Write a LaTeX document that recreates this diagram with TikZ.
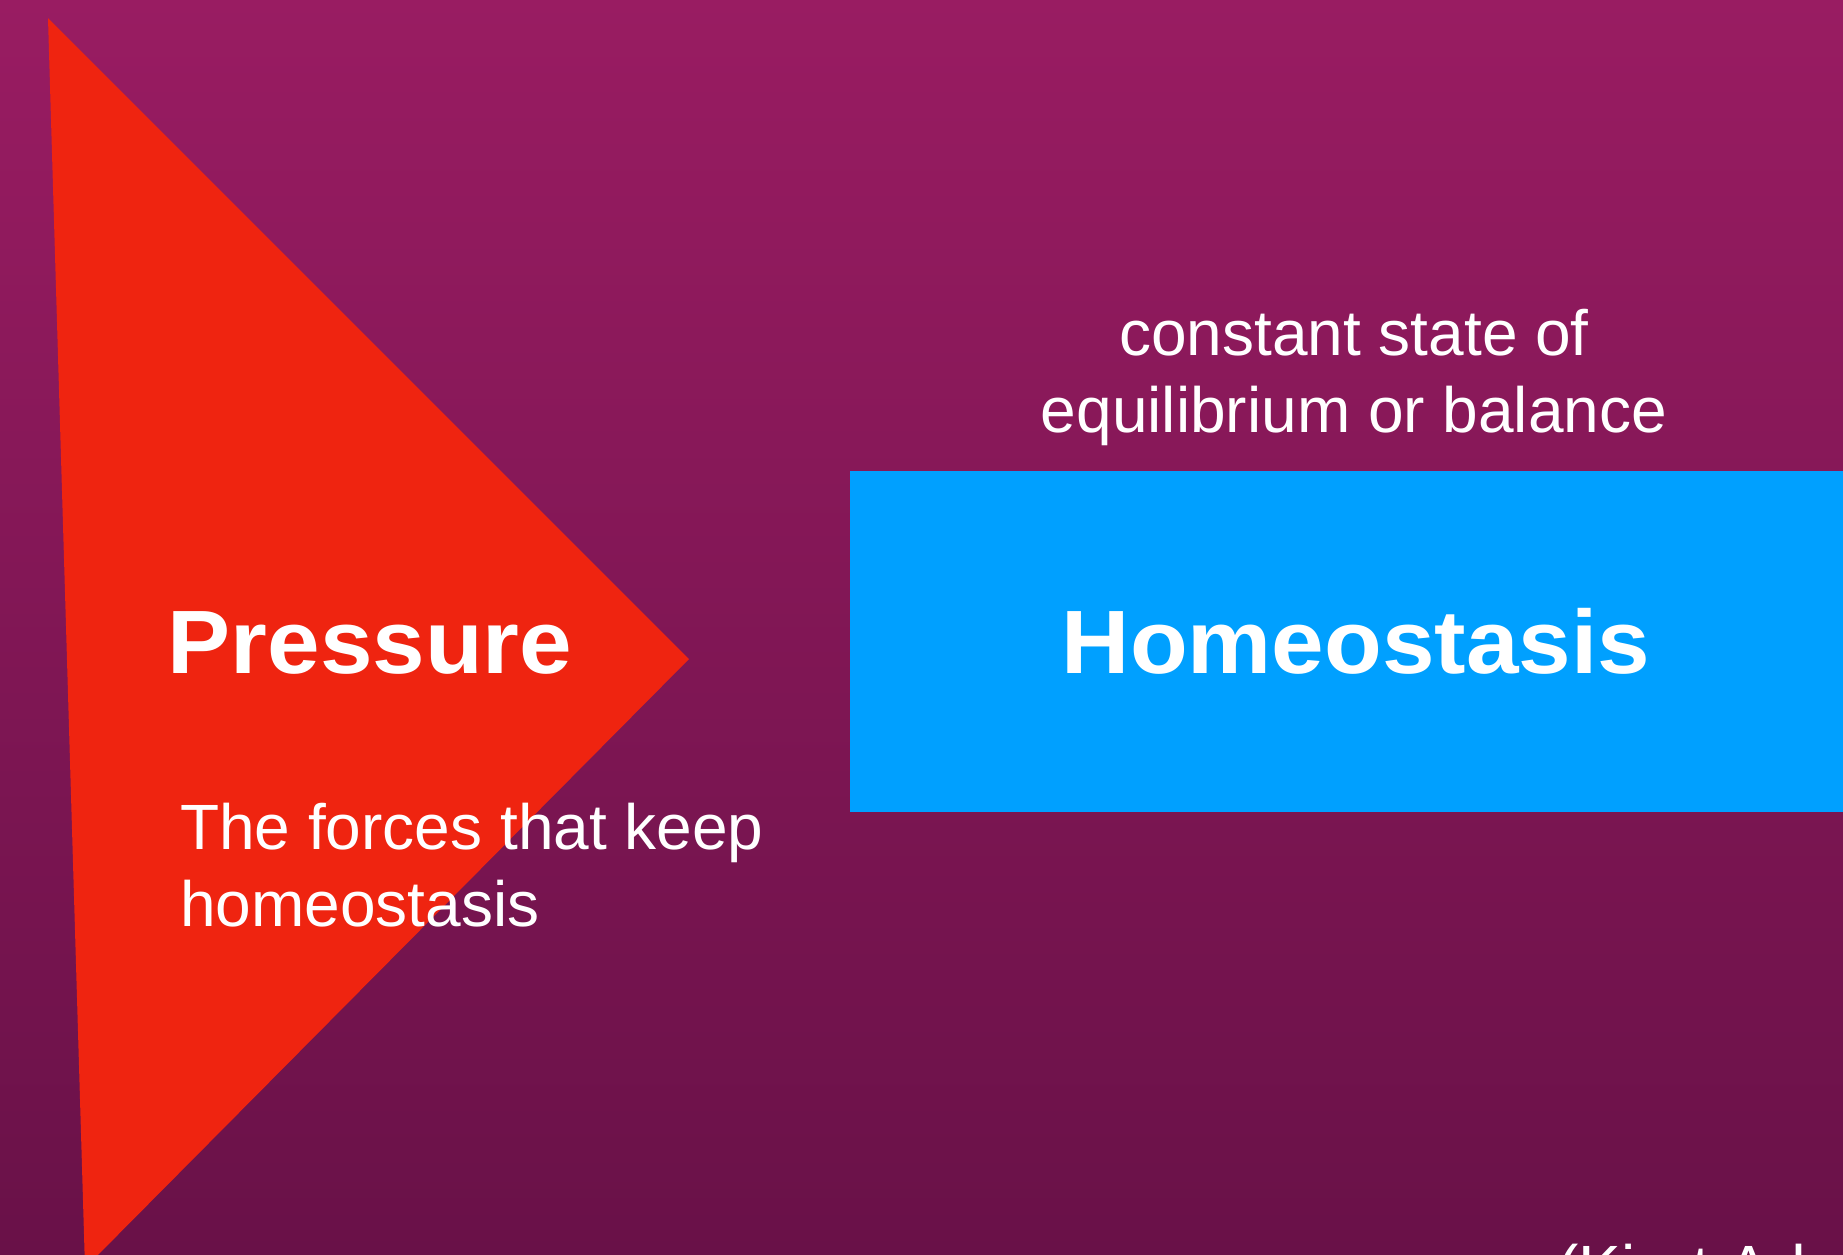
\documentclass[tikz,border=0pt]{standalone}
\usepackage{fontspec}
\setmainfont{Liberation Sans}
\newfontfamily\headfont{Liberation Sans}[FakeStretch=1.05]
\definecolor{bgtop}{HTML}{991C62}
\definecolor{bgbot}{HTML}{691148}
\definecolor{tri}{HTML}{EF2410}
\definecolor{boxblue}{HTML}{00A0FF}
\begin{document}
\begin{tikzpicture}[x=1pt,y=-1pt,
  headtxt/.style={inner sep=0pt,text=white,font=\headfont\bfseries\fontsize{90}{100}\selectfont,anchor=base},
  bodytxt/.style={inner sep=0pt,text=white,font=\fontsize{64}{77}\selectfont,anchor=base}]
\useasboundingbox (0,0) rectangle (1843,1254);
\clip (0,0) rectangle (1843,1254);
\shade[top color=bgtop,bottom color=bgbot] (0,0) rectangle (1843,1254);
% red triangle
\fill[tri] (48,18) -- (689,659) -- (85,1268) -- cycle;
% blue box
\fill[boxblue] (850,471) rectangle (1850,812);
% texts
\node[headtxt] (pressure) at (370,673) {Pressure};
\node[headtxt] (homeo) at (1356,673) {Homeostasis};
\node[bodytxt] (c1) at (1354,355) {constant state of};
\node[bodytxt] (c2) at (1354,432) {equilibrium or balance};
\node[bodytxt,anchor=base west] (f1) at (180,849) {The forces that keep};
\node[bodytxt,anchor=base west] (f2) at (180,926) {homeostasis};
\node[bodytxt,anchor=base west] (credit) at (1557,1290) {(Kirat Ad};
\end{tikzpicture}
\end{document}
